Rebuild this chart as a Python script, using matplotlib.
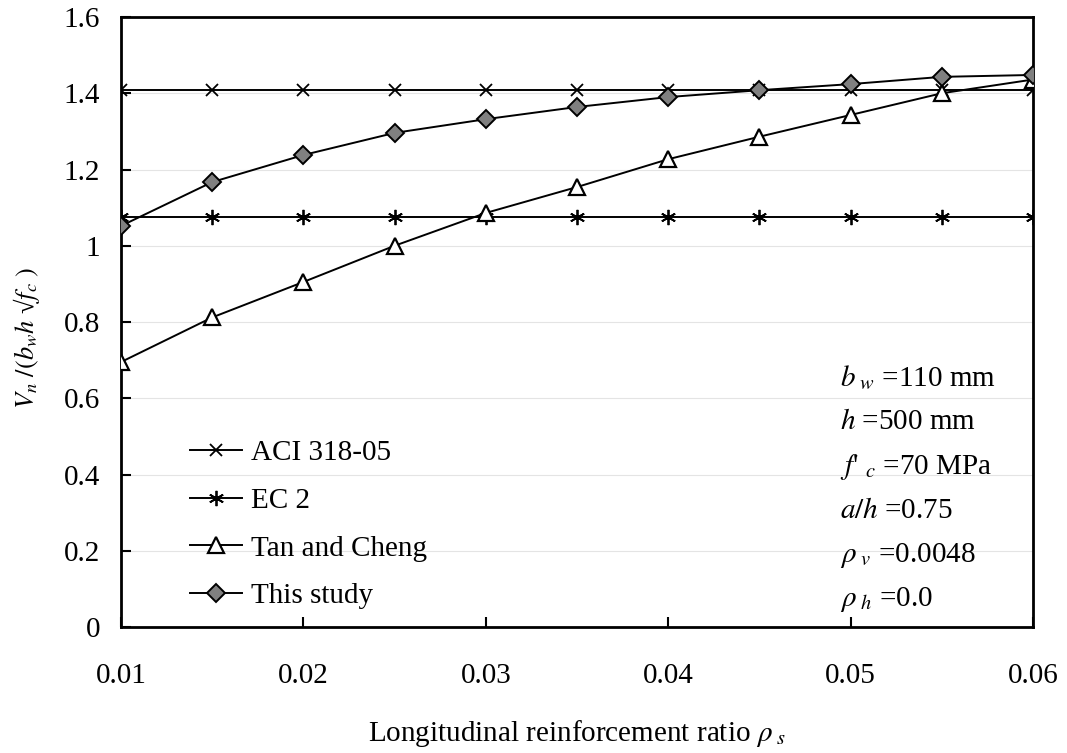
import matplotlib
matplotlib.use("Agg")
import matplotlib.pyplot as plt

plt.rcParams['font.family'] = ['Liberation Serif', 'DejaVu Serif']
plt.rcParams['mathtext.fontset'] = 'stix'

rho_s = [0.010, 0.015, 0.020, 0.025, 0.030, 0.035, 0.040, 0.045, 0.050, 0.055, 0.060]
aci = [1.408] * 11
ec2 = [1.076] * 11
tan_cheng = [0.695, 0.812, 0.905, 1.000, 1.086, 1.154, 1.227, 1.286, 1.343, 1.400, 1.436]
this_study = [1.052, 1.167, 1.238, 1.296, 1.332, 1.364, 1.390, 1.408, 1.424, 1.443, 1.448]

x_ticks = [0.01, 0.02, 0.03, 0.04, 0.05, 0.06]
x_ticklabels = ['0.01', '0.02', '0.03', '0.04', '0.05', '0.06']
y_ticks = [0, 0.2, 0.4, 0.6, 0.8, 1.0, 1.2, 1.4, 1.6]
y_ticklabels = ['0', '0.2', '0.4', '0.6', '0.8', '1', '1.2', '1.4', '1.6']

annot_lines = [r'$b_{\ w}$ =110 mm', r'$h$ =500 mm', r"$f$' $_{c}$ =70 MPa",
               r'$a/h$ =0.75', r'$\rho_{\ v}$ =0.0048', r'$\rho_{\ h}$ =0.0']

W, H = 1067, 753
fig = plt.figure(figsize=(W/100, H/100), dpi=100)
L, R, T, B = 121, 1033, 17, 627
ax = fig.add_axes([L/W, 1 - B/H, (R-L)/W, (B-T)/H])

FS = 21
lw = 1.4
ax.plot(rho_s, aci, color='black', lw=lw, marker='x', ms=9, mew=1.3, label='ACI 318-05', zorder=3)
ax.plot(rho_s, ec2, color='black', lw=lw, marker=(6, 2, 0), ms=11, mew=1.3, label='EC 2', zorder=3)
ax.plot(rho_s, tan_cheng, color='black', lw=lw, marker='^', ms=11, mfc='white', mec='black', mew=1.6,
        label='Tan and Cheng', zorder=4)
ax.plot(rho_s, this_study, color='black', lw=lw, marker='D', ms=9, mfc='#808080', mec='black', mew=1.4,
        label='This study', zorder=5)

ax.set_xlim(0.01, 0.06)
ax.set_ylim(0, 1.6)
ax.set_xticks(x_ticks)
ax.set_xticklabels(x_ticklabels, fontsize=FS)
ax.set_yticks(y_ticks)
ax.set_yticklabels(y_ticklabels, fontsize=FS)
ax.tick_params(direction='in', length=7, width=1.5)
ax.tick_params(axis='y', pad=15)
ax.tick_params(axis='x', pad=26)
for s in ax.spines.values():
    s.set_linewidth(2)
ax.grid(axis='y', color='#e4e4e4', lw=0.8)
ax.set_axisbelow(True)

ax.set_xlabel(r'Longitudinal reinforcement ratio $\rho_{\ s}$', fontsize=FS)
ax.xaxis.set_label_coords(0.5, -(741 - B) / (B - T))
ax.xaxis.label.set_va('baseline')
ax.set_ylabel("$V_n\\ /(b_w h\\ $√$f_c\\ )$", fontsize=19)
ax.yaxis.set_label_coords((27 - L) / (R - L), (B - 338) / (B - T))
ax.yaxis.label.set_va('center')

leg = ax.legend(loc='upper left', bbox_to_anchor=(0.0625, 0.326), frameon=False, fontsize=FS,
                handlelength=1.8, handletextpad=0.3, labelspacing=0.73, borderaxespad=0)

y0 = 378
for i, t in enumerate(annot_lines):
    yy = y0 + i * 44.4
    fig.text(840/W, 1 - yy/H, t, fontsize=FS, va='center', ha='left')

fig.savefig('out.png', dpi=100)
